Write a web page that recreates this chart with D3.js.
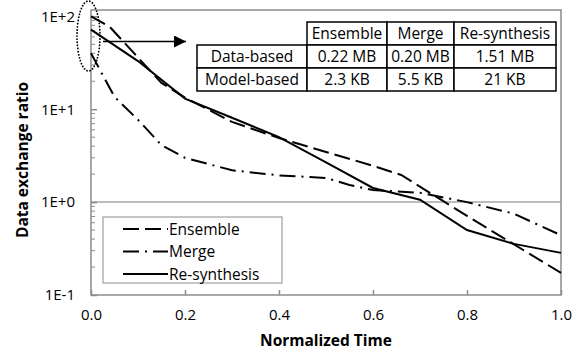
<!DOCTYPE html>
<html>
<head>
<meta charset="utf-8">
<script src="https://cdn.jsdelivr.net/npm/d3@7"></script>
<style>
  body { margin: 0; background: #fff; }
  text { font-family: "Open Sans", "Liberation Sans", sans-serif; fill: #000; }
</style>
</head>
<body>
<script>
// series values (normalized time, data exchange ratio)
var ensembleX  = [0, 0.04, 0.1, 0.15, 0.2, 0.3, 0.4, 0.5, 0.6, 0.66, 0.8, 1.0];
var ensembleY  = [100, 77, 36, 19.2, 13.3, 7.3, 4.9, 3.47, 2.46, 1.96, 0.71, 0.173];
var mergeX     = [0, 0.05, 0.1, 0.15, 0.2, 0.3, 0.4, 0.5, 0.55, 0.6, 0.7, 0.8, 0.9, 1.0];
var mergeY     = [40, 13.6, 7.7, 4.1, 3.0, 2.2, 1.94, 1.82, 1.53, 1.35, 1.26, 1.0, 0.75, 0.44];
var resynthX   = [0, 0.1, 0.2, 0.3, 0.4, 0.5, 0.6, 0.7, 0.8, 0.9, 1.0];
var resynthY   = [72, 33, 13, 8.1, 5.0, 2.68, 1.42, 1.06, 0.5, 0.355, 0.284];

var seriesNames = ["Ensemble", "Merge", "Re-synthesis"];
var xTicks = [0, 0.2, 0.4, 0.6, 0.8, 1.0];
var yTicks = [0.1, 1, 10, 100];
var yTickLabels = ["1E-1", "1E+0", "1E+1", "1E+2"];

// inset table
var tableCols = ["Ensemble", "Merge", "Re-synthesis"];
var tableRows = ["Data-based", "Model-based"];
var tableVals = [["0.22 MB", "0.20 MB", "1.51 MB"],
                 ["2.3 KB", "5.5 KB", "21 KB"]];

var width = 582, height = 354;
var svg = d3.select("body").append("svg")
    .attr("width", width)
    .attr("height", height);

var x = d3.scaleLinear().domain([0, 1]).range([91, 561]);
var y = d3.scaleLog().domain([0.1, 117]).range([295, 10]);

var series = [
  { name: seriesNames[0], xs: ensembleX, ys: ensembleY, dash: "16,6" },
  { name: seriesNames[1], xs: mergeX, ys: mergeY, dash: "16,6,2,6" },
  { name: seriesNames[2], xs: resynthX, ys: resynthY, dash: null }
];

// gridline at 1E+0
svg.append("line")
    .attr("x1", x(0)).attr("x2", x(1))
    .attr("y1", y(1)).attr("y2", y(1))
    .attr("stroke", "#a6a6a6").attr("stroke-width", 1.5);

// minor ticks on log axis
var minor = [];
[0.1, 1, 10].forEach(function(d) {
  for (var k = 2; k <= 9; k++) minor.push(d * k);
});
minor.push(100);
svg.append("g").selectAll("line")
    .data(minor)
    .enter().append("line")
    .attr("x1", x(0)).attr("x2", x(0) + 4)
    .attr("y1", function(d) { return y(d); })
    .attr("y2", function(d) { return y(d); })
    .attr("stroke", "#8c8c8c").attr("stroke-width", 1);

// y axis
var yAxis = svg.append("g")
    .attr("transform", "translate(" + x(0) + ",0)")
    .call(d3.axisLeft(y).tickValues(yTicks)
        .tickFormat(function(d, i) { return yTickLabels[i]; })
        .tickSize(-6).tickPadding(16));
yAxis.select(".domain").remove();
yAxis.selectAll("line").attr("stroke", "#8c8c8c").attr("stroke-width", 1.5);
yAxis.selectAll("text").style("font-size", "15px").style("font-family", "Open Sans");

// x axis
var xAxis = svg.append("g")
    .attr("transform", "translate(0," + y(0.1) + ")")
    .call(d3.axisBottom(x).tickValues(xTicks)
        .tickFormat(d3.format(".1f"))
        .tickSize(-5).tickPadding(14));
xAxis.select(".domain").remove();
xAxis.selectAll("line").attr("stroke", "#8c8c8c").attr("stroke-width", 1.5);
xAxis.selectAll("text").style("font-size", "15px").style("font-family", "Open Sans");

// plot border
svg.append("rect")
    .attr("x", x(0)).attr("y", y(117))
    .attr("width", x(1) - x(0)).attr("height", y(0.1) - y(117))
    .attr("fill", "none")
    .attr("stroke", "#8c8c8c").attr("stroke-width", 1.5);

// series lines
var line = d3.line()
    .x(function(d) { return x(d[0]); })
    .y(function(d) { return y(d[1]); });

svg.append("g").selectAll("path")
    .data(series)
    .enter().append("path")
    .attr("d", function(s) { return line(s.xs.map(function(v, i) { return [v, s.ys[i]]; })); })
    .attr("fill", "none")
    .attr("stroke", "#000")
    .attr("stroke-width", 2)
    .attr("stroke-dasharray", function(s) { return s.dash; });

// dotted ellipse around start values
svg.append("ellipse")
    .attr("cx", 88.5).attr("cy", 36)
    .attr("rx", 11.5).attr("ry", 35)
    .attr("fill", "none")
    .attr("stroke", "#000").attr("stroke-width", 1.8)
    .attr("stroke-linecap", "round")
    .attr("stroke-dasharray", "0.1,3");

// arrow to the table
svg.append("defs").append("marker")
    .attr("id", "head")
    .attr("viewBox", "0 0 10 10")
    .attr("refX", 10).attr("refY", 5)
    .attr("markerWidth", 12).attr("markerHeight", 12)
    .attr("markerUnits", "userSpaceOnUse")
    .attr("orient", "auto")
    .append("path").attr("d", "M0,0L10,5L0,10Z").attr("fill", "#000");
svg.append("line")
    .attr("x1", 103).attr("x2", 186)
    .attr("y1", 41.5).attr("y2", 41.5)
    .attr("stroke", "#000").attr("stroke-width", 1.5)
    .attr("marker-end", "url(#head)");

// table
var colEdges = [197, 307, 387, 454, 556];
var rowEdges = [22, 45, 68, 91];
var tbl = svg.append("g");
var cells = [];
tableCols.forEach(function(c, j) { cells.push({ r: 0, c: j + 1, t: c }); });
tableRows.forEach(function(r, i) {
  cells.push({ r: i + 1, c: 0, t: r });
  tableVals[i].forEach(function(v, j) { cells.push({ r: i + 1, c: j + 1, t: v }); });
});
tbl.selectAll("rect")
    .data(cells)
    .enter().append("rect")
    .attr("x", function(d) { return colEdges[d.c]; })
    .attr("y", function(d) { return rowEdges[d.r]; })
    .attr("width", function(d) { return colEdges[d.c + 1] - colEdges[d.c]; })
    .attr("height", function(d) { return rowEdges[d.r + 1] - rowEdges[d.r]; })
    .attr("fill", "#fff")
    .attr("stroke", "#000").attr("stroke-width", 1.5);
tbl.selectAll("text")
    .data(cells)
    .enter().append("text")
    .attr("x", function(d) { return (colEdges[d.c] + colEdges[d.c + 1]) / 2; })
    .attr("y", function(d) { return (rowEdges[d.r] + rowEdges[d.r + 1]) / 2 + 5.5; })
    .attr("text-anchor", "middle")
    .style("font-size", "15.5px")
    .text(function(d) { return d.t; });

// legend
var leg = svg.append("g");
leg.append("rect")
    .attr("x", 103).attr("y", 217)
    .attr("width", 179).attr("height", 66)
    .attr("fill", "#fff")
    .attr("stroke", "#8c8c8c").attr("stroke-width", 1);
var items = leg.selectAll("g.item")
    .data(series)
    .enter().append("g")
    .attr("class", "item")
    .attr("transform", function(d, i) { return "translate(0," + (229 + i * 22.5) + ")"; });
items.append("line")
    .attr("x1", 123).attr("x2", 168)
    .attr("stroke", "#000").attr("stroke-width", 2)
    .attr("stroke-dasharray", function(s) { return s.dash; });
items.append("text")
    .attr("x", 169).attr("y", 5.5)
    .style("font-size", "15.5px")
    .text(function(s) { return s.name; });

// axis titles
svg.append("text")
    .attr("x", (x(0) + x(1)) / 2).attr("y", 346)
    .attr("text-anchor", "middle")
    .style("font-size", "15.5px").style("font-weight", "bold")
    .text("Normalized Time");
svg.append("text")
    .attr("transform", "translate(28,160) rotate(-90)")
    .attr("text-anchor", "middle")
    .style("font-size", "15.5px").style("font-weight", "bold")
    .text("Data exchange ratio");
</script>
</body>
</html>
